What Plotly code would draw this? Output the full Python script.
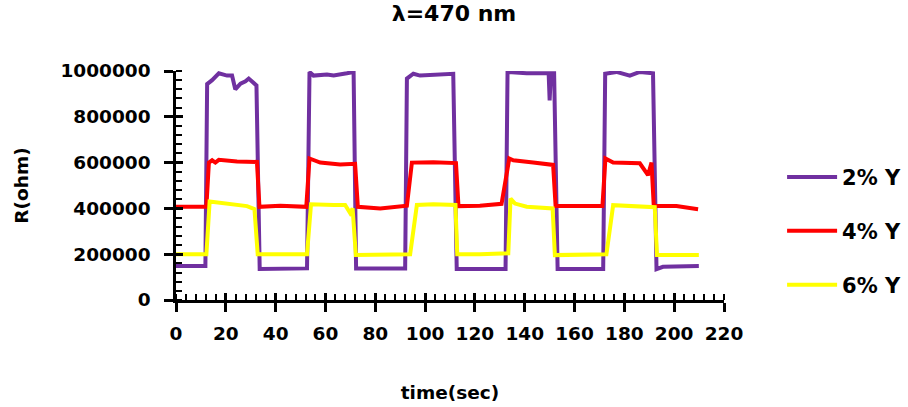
import plotly.graph_objects as go

# ---- data ----
t_2 = [0, 11.8, 12.5, 14.5, 17.2, 20.5, 22.5, 23.8, 25.9, 27.9, 29.2, 30.5, 32.3, 33.6,
       52.6, 53.6, 55.2, 60.6, 63.3, 68.6, 71.3, 72.3,
       92.0, 92.7, 95.3, 98.0, 106.0, 111.3, 112.7,
       132.3, 133.1, 140.8, 148.1, 149.6, 150.0, 150.5, 151.8, 153.2,
       171.5, 172.3, 176.8, 182.2, 186.2, 191.5, 192.9, 195.5, 209.9]
r_2 = [148000, 148000, 943000, 960000, 990000, 980000, 980000, 920000, 945000, 955000, 967000, 952000, 937000, 135000,
       138000, 996000, 980000, 985000, 980000, 990000, 996000, 138000,
       138000, 967000, 988000, 980000, 985000, 988000, 135000,
       135000, 996000, 990000, 990000, 990000, 872000, 990000, 990000, 135000,
       135000, 988000, 996000, 980000, 996000, 990000, 135000, 145000, 148000]

t_4 = [0, 12.2, 13.2, 14.5, 15.8, 17.2, 24.5, 32.5, 33.5, 41.9,
       52.3, 53.6, 57.9, 65.9, 71.9, 73.0, 82.0,
       92.0, 92.7, 94.7, 103.3, 112.4, 113.4, 122.0,
       130.7, 133.8, 135.4, 143.4, 151.4, 152.4, 162.1,
       171.2, 172.4, 175.5, 186.2, 189.5, 190.9, 191.8, 200.9, 209.6]
r_4 = [407000, 407000, 600000, 610000, 600000, 612000, 605000, 603000, 407000, 412000,
       407000, 618000, 600000, 592000, 595000, 407000, 400000,
       410000, 412000, 600000, 602000, 598000, 410000, 412000,
       420000, 618000, 610000, 600000, 590000, 410000, 410000,
       410000, 618000, 600000, 597000, 545000, 600000, 410000, 410000, 396000]

t_6 = [0, 12.2, 13.5, 17.8, 23.2, 28.5, 31.5, 32.8,
       52.6, 54.2, 63.3, 67.9, 69.9, 70.9, 72.2,
       94.0, 96.7, 103.3, 112.2, 112.9, 122.0,
       133.4, 134.3, 136.1, 140.8, 150.1, 151.2, 152.1,
       172.8, 175.5, 183.5, 192.2, 193.1, 209.9]
r_6 = [200000, 200000, 430000, 425000, 420000, 410000, 397000, 200000,
       200000, 418000, 415000, 415000, 380000, 400000, 197000,
       200000, 415000, 418000, 415000, 200000, 200000,
       204000, 443000, 421000, 407000, 400000, 400000, 196000,
       200000, 414000, 410000, 405000, 196000, 196000]

series_names = ["2% Y", "4% Y", "6% Y"]
series_colors = ["#7030A0", "#FF0000", "#FFFF00"]

x_ticks = list(range(0, 221, 20))
y_ticks = list(range(0, 1000001, 200000))

FONT = "DejaVu Sans"

fig = go.Figure()
for i, (tx, ry) in enumerate([(t_2, r_2), (t_4, r_4), (t_6, r_6)]):
    fig.add_trace(go.Scatter(x=tx, y=ry, mode="lines", name=series_names[i],
                             legendgroup=f"g{i}",
                             line=dict(color=series_colors[i], width=4)))

# overlay axes used only to draw the inner half of the crossing major ticks
fig.add_trace(go.Scatter(x=[], y=[], xaxis="x2", yaxis="y2", showlegend=False, hoverinfo="skip"))

axis_font = dict(family=FONT, size=18.5, color="black", weight="bold")

fig.update_layout(
    width=908, height=407,
    margin=dict(l=175.5, r=183.5, t=70.7, b=106.5, autoexpand=False),
    paper_bgcolor="white", plot_bgcolor="white",
    title=dict(text="λ=470 nm", x=0.5, xref="container", xanchor="center",
               y=1 - 13 / 407, yref="container", yanchor="middle",
               font=dict(family=FONT, size=22, color="black", weight="bold")),
    xaxis=dict(range=[0, 220], tickvals=x_ticks, ticktext=[str(v) for v in x_ticks],
               showgrid=False, zeroline=False, showline=True, linecolor="black", linewidth=2.5,
               ticks="outside", ticklen=9, tickwidth=2.5, tickcolor="black",
               minor=dict(ticks="inside", ticklen=6, tickwidth=2, tickcolor="black", dtick=4, showgrid=False),
               tickfont=axis_font, ticklabelstandoff=6,
               title=dict(text="time(sec)", font=axis_font, standoff=44)),
    yaxis=dict(range=[0, 1000000], tickvals=y_ticks, ticktext=[str(v) for v in y_ticks],
               showgrid=False, zeroline=False, showline=True, linecolor="black", linewidth=2.5,
               ticks="outside", ticklen=9, tickwidth=2.5, tickcolor="black",
               minor=dict(ticks="inside", ticklen=6, tickwidth=2, tickcolor="black", dtick=40000, showgrid=False),
               tickfont=axis_font, ticklabelstandoff=10,
               title=dict(text="R(ohm)", font=axis_font, standoff=27)),
    xaxis2=dict(range=[0, 220], overlaying="x", anchor="y", tickvals=x_ticks, showticklabels=False,
                ticks="inside", ticklen=7, tickwidth=2.5, tickcolor="black",
                showgrid=False, zeroline=False, showline=False),
    yaxis2=dict(range=[0, 1000000], overlaying="y", anchor="x", tickvals=y_ticks, showticklabels=False,
                ticks="inside", ticklen=7, tickwidth=2.5, tickcolor="black",
                showgrid=False, zeroline=False, showline=False),
    showlegend=True,
    legend=dict(x=1.106, xanchor="left", y=0.625, yanchor="top",
                font=dict(family=FONT, size=21, color="black", weight="bold"),
                tracegroupgap=23.5, itemwidth=50, bgcolor="rgba(0,0,0,0)"),
)

fig.write_html("out.html")
